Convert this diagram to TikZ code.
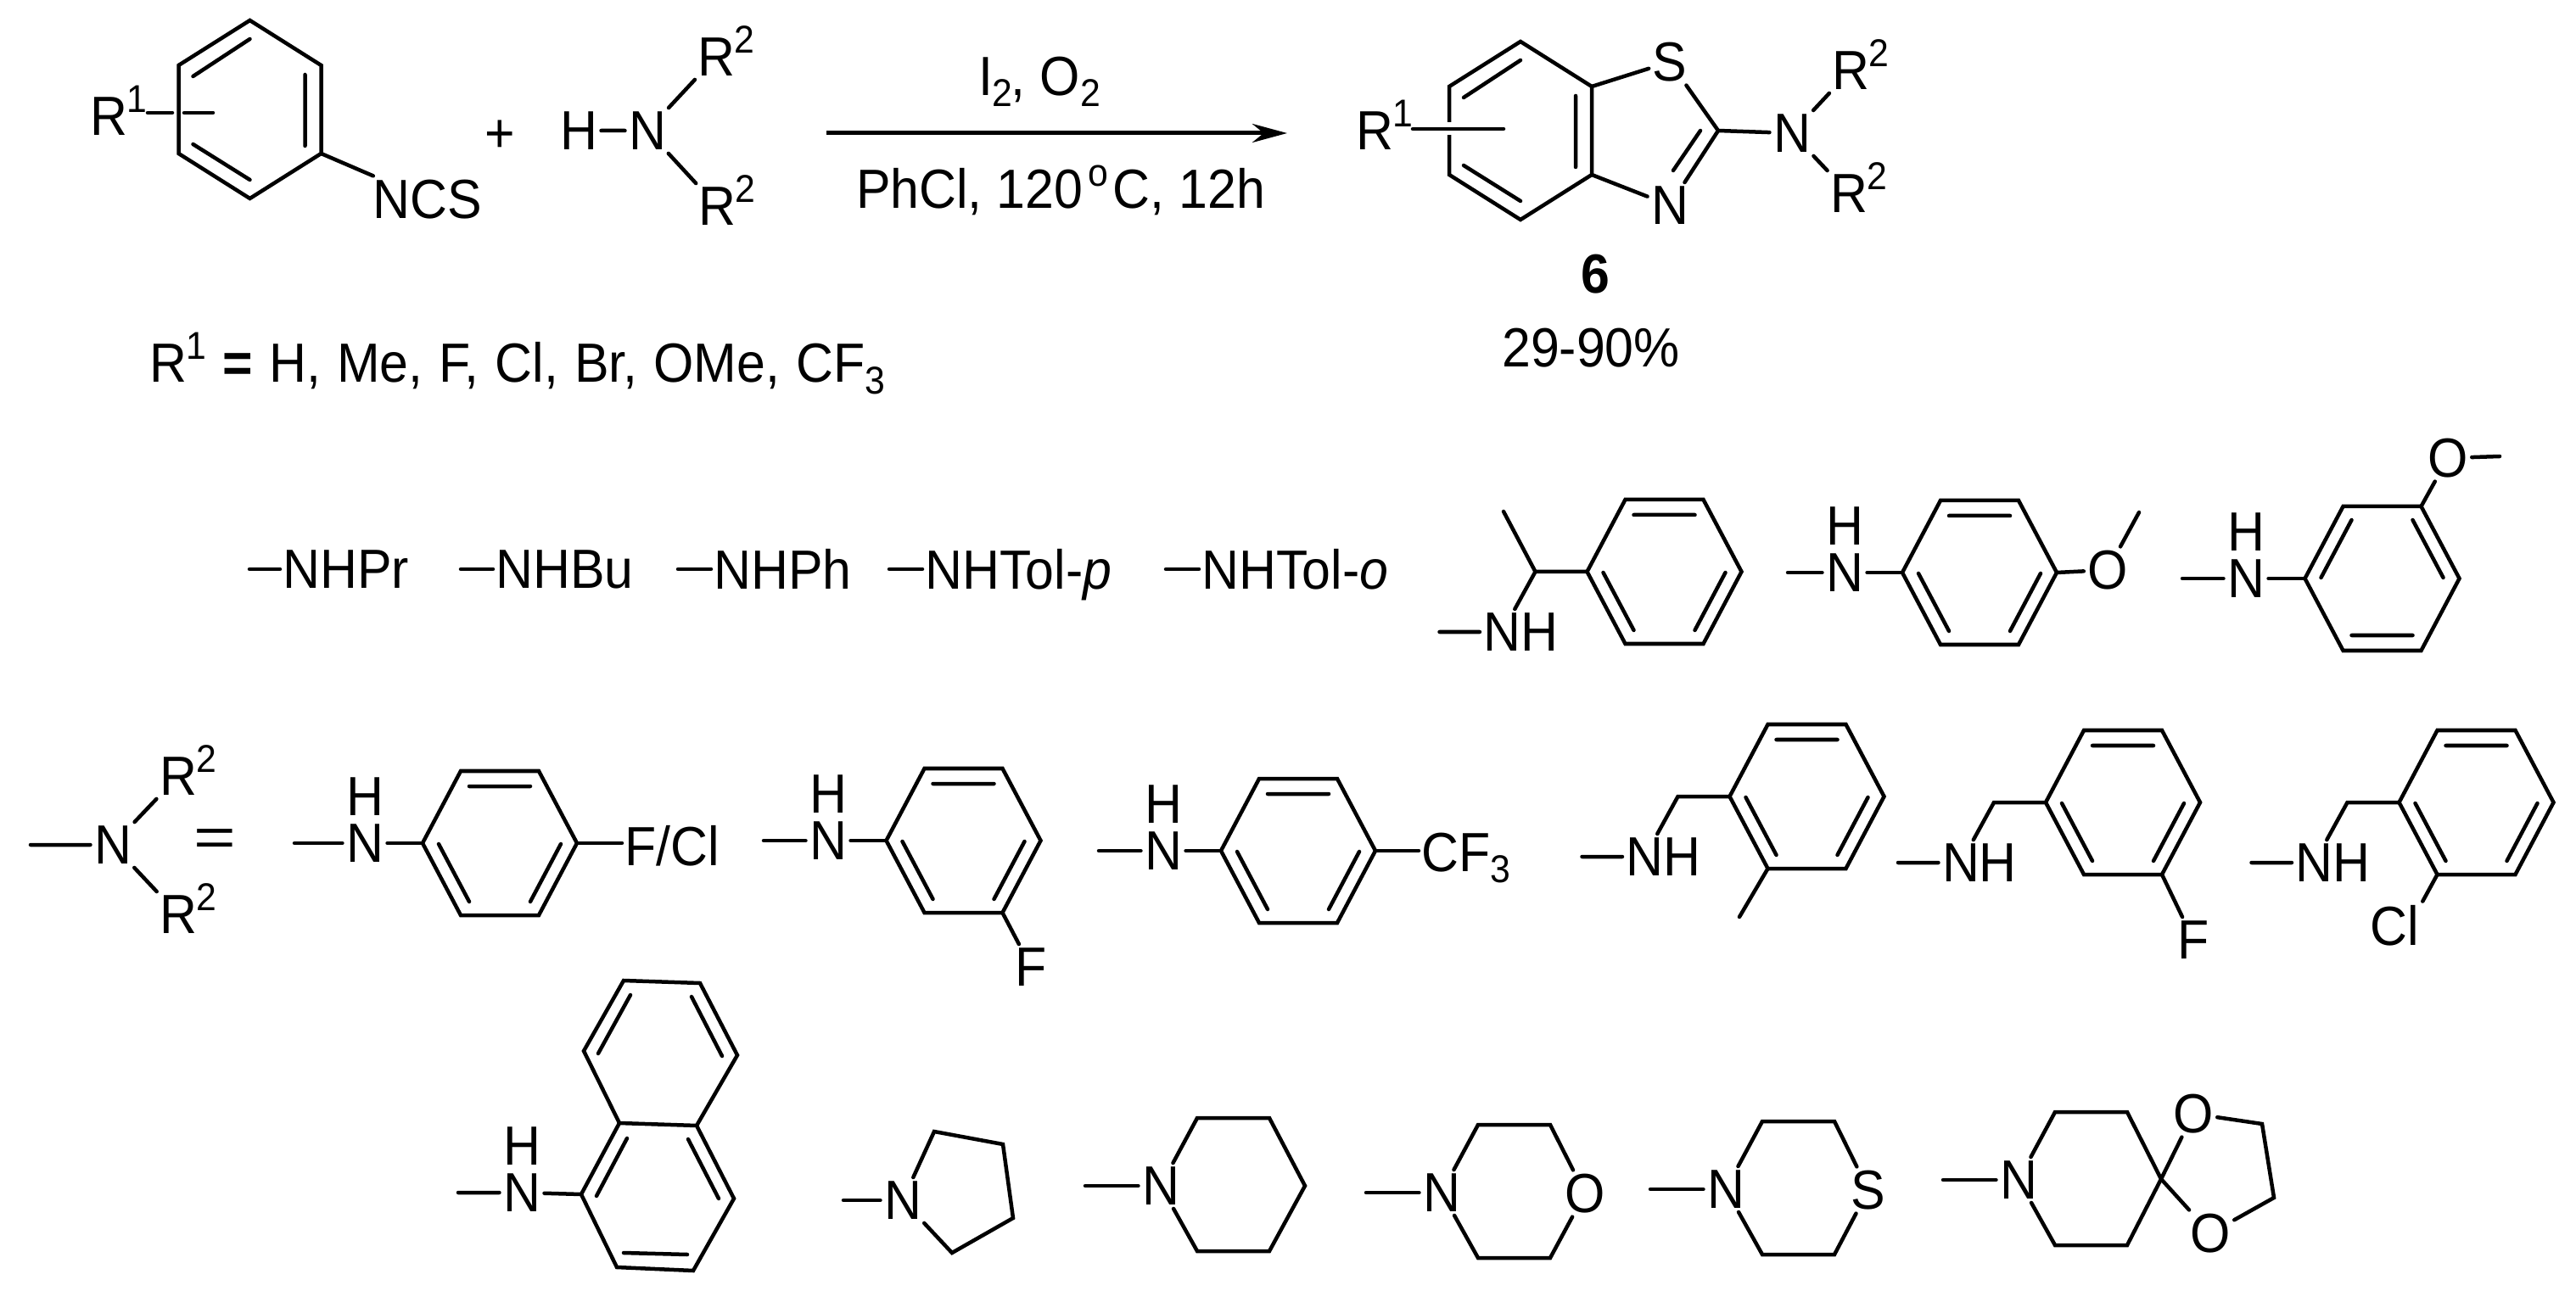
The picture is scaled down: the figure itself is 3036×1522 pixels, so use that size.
\documentclass[tikz,border=0pt]{standalone}
\usepackage{fontspec}
\setmainfont{Liberation Sans}[FakeStretch=0.935]
\usetikzlibrary{arrows.meta,positioning}
\newcommand{\chemfont}{\fontsize{18.5}{22}\selectfont}
\newcommand{\smallfont}{\fontsize{13}{13}\selectfont}
\newcommand{\sups}[1]{\rlap{\smash{\raisebox{0.27cm}{\smallfont #1}}}}
\newcommand{\subs}[1]{\rlap{\smash{\raisebox{-0.13cm}{\smallfont #1}}}}
\tikzset{
  bond/.style={line width=0.045cm,line cap=round,line join=miter},
  halo/.style={preaction={draw=white,line width=0.15cm,line cap=butt}},
  atom/.style={inner sep=1.3pt,outer sep=0pt},
  textline/.style={inner sep=0pt,outer sep=0pt,anchor=base west},
  group/.style={inner ysep=0pt,inner xsep=1pt,outer sep=0pt,anchor=west,text depth=0pt},
  react/.style={line width=0.05cm,-{Stealth[length=0.41cm,width=0.22cm]}}
}
\newcommand{\flatring}[4]{
  \begin{scope}[shift={(#2,#3)},yscale=#4]
    \coordinate (#11) at (-91,0);
    \coordinate (#12) at (-46,-85);
    \coordinate (#13) at (46,-85);
    \coordinate (#14) at (91,0);
    \coordinate (#15) at (46,85);
    \coordinate (#16) at (-46,85);
    \draw[bond] (#11) -- (#12) -- (#13) -- (#14) -- (#15) -- (#16) -- cycle;
    \draw[bond] (-36,-67) -- (36,-67) (-72,1) -- (-36,69) (72,1) -- (36,69);
  \end{scope}}
\newcommand{\tallring}[3]{
  \begin{scope}[shift={(#2,#3)}]
    \coordinate (#11) at (0,-105);
    \coordinate (#12) at (84,-52);
    \coordinate (#13) at (84,52);
    \coordinate (#14) at (0,105);
    \coordinate (#15) at (-84,52);
    \coordinate (#16) at (-84,-52);
    \draw[bond] (#11) -- (#12) -- (#13) -- (#14) -- (#15) -- (#16) -- cycle;
    \draw[bond] (-67,-39) -- (0,-83) (65,-41) -- (65,43) (-67,41) -- (0,83);
  \end{scope}}
\newcommand{\anilino}[5]{
  \node[atom] (#1N) at (#2,#3) {N};
  \node[atom,on grid,above=of #1N] (#1H) {H};
  \coordinate (#1m) at (#2-#4,#3);
  \draw[bond] (#1m) -- (#1N) -- (#5);}
\newcommand{\benzylamine}[3]{
  \flatring{#1}{#2}{#3}{1}
  \begin{scope}[shift={(#2,#3)}]
    \coordinate (#1c) at (-152,0);
    \node[atom] (#1N) at (-191,71) {N\rlap{H}};
    \coordinate (#1m) at (-265,71);
  \end{scope}
  \draw[bond] (#1m) -- (#1N) -- (#1c) -- (#11);}
\newcommand{\azaring}[3]{
  \node[atom] (#1N) at (#2,#3) {N};
  \coordinate (#1m) at (#2-89,#3);
  \coordinate (#1a) at (#2+43,#3-80);
  \coordinate (#1b) at (#2+128,#3-80);
  \coordinate (#1c) at (#2+128,#3+77);
  \coordinate (#1d) at (#2+43,#3+77);
  \draw[bond] (#1m) -- (#1N);
  \draw[bond] (#1N) -- (#1a) -- (#1b) -- (#1X) -- (#1c) -- (#1d) -- (#1N);}
\begin{document}
\begin{tikzpicture}[x=0.01cm,y=-0.01cm,node distance=0.55cm,every node/.style={font=\chemfont}]
  \useasboundingbox (0,0) rectangle (3036,1522);

  \tallring{r}{294.5}{129}
  \node[atom] (rR) at (128,137) {R\sups{1}};
  \coordinate (rs1) at (174,133);
  \coordinate (rs2) at (203,133);
  \coordinate (rs3) at (217,133);
  \coordinate (rs4) at (251,133);
  \draw[bond] (rs1) -- (rs2) (rs3) -- (rs4);
  \node[atom] (ncs) at (504,235) {NCS};
  \draw[bond] (r3) -- (ncs);
  \node[atom] (plus) at (589,161) {+};
  \node[atom] (aH) at (682,154) {H};
  \node[atom] (aN) at (763,154) {N};
  \node[atom] (aR1) at (844,67) {R\sups{2}};
  \node[atom] (aR2) at (845,243) {R\sups{2}};
  \draw[bond] (aH) -- (aN) (aN) -- (aR1) (aN) -- (aR2);

  \coordinate (arstart) at (974,157);
  \coordinate (arend) at (1517,157);
  \draw[react] (arstart) -- (arend);
  \node[textline] (cond1) at (1153,113) {I\subs{2}\hspace{0.22cm}, O\subs{2}};
  \node[textline] (cond2) at (1009,246) {PhCl, 120\hspace{0.06cm}\raisebox{0.26cm}{\smallfont o}\hspace{0.06cm}C, 12h};
  \node[textline] (r1list) at (176,451) {\spaceskip=0.19cm R\raisebox{0.27cm}{\smallfont 1} \textbf{=} H, Me, F, Cl, Br, OMe, CF\subs{3}};

  \tallring{p}{1792}{154}
  \node[atom] (pS) at (1968,73) {S};
  \node[atom] (pA) at (1968,242) {N};
  \coordinate (pC) at (2025,154);
  \node[atom] (pN) at (2112,157) {N};
  \node[atom] (pR1) at (2181,83) {R\sups{2}};
  \node[atom] (pR2) at (2179,228) {R\sups{2}};
  \node[atom] (pR) at (1620,154) {R\sups{1}};
  \coordinate (ps1) at (1665,152);
  \coordinate (ps2) at (1772,152);
  \draw[bond,halo] (ps1) -- (ps2);
  \draw[bond] (p2) -- (pS) -- (pC) -- (pA) -- (p3);
  \draw[bond] (pC) -- (pN) (pN) -- (pR1) (pN) -- (pR2);
  \draw[bond] (2004,154) -- (1972,201);
  \node[atom] (six) at (1880,323) {\textbf{6}};
  \node[atom] (yield) at (1875,410) {29-90\%};

  \node[group] (pr) at (330,671) {NHPr};
  \node[group] (bu) at (581,671) {NHBu};
  \node[group] (ph) at (838,671) {NHPh};
  \node[group] (tp) at (1087,671) {NHTol-\textit{p}};
  \node[group] (to) at (1413,671) {NHTol-\textit{o}};
  \coordinate (prm) at (294,671);
  \coordinate (bum) at (543,671);
  \coordinate (phm) at (799,671);
  \coordinate (tpm) at (1048,671);
  \coordinate (tom) at (1374,671);
  \draw[bond] (prm) -- (pr.west) (bum) -- (bu.west) (phm) -- (ph.west) (tpm) -- (tp.west) (tom) -- (to.west);

  \benzylamine{a}{1961.5}{674}
  \coordinate (ame) at (1772,603);
  \draw[bond] (ac) -- (ame);

  \flatring{b}{2333}{675}{1}
  \anilino{b}{2174}{675}{67}{b1}
  \node[atom] (bO) at (2484,672) {O};
  \coordinate (bme) at (2521,604);
  \draw[bond] (b4) -- (bO) -- (bme);

  \flatring{c}{2807.5}{682}{-1}
  \anilino{c}{2647}{682}{75}{c1}
  \node[atom] (cO) at (2885,540) {O};
  \coordinate (cme) at (2946,538);
  \draw[bond] (c5) -- (cO);
  \draw[bond] (cO) -- (cme);

  \node[atom] (xN) at (133,996) {N};
  \coordinate (xm) at (36,996);
  \node[atom] (xR1) at (210,915) {R\sups{2}};
  \node[atom] (xR2) at (210,1078) {R\sups{2}};
  \draw[bond] (xm) -- (xN) (xN) -- (xR1) (xN) -- (xR2);
  \node[atom] (eq) at (253,994) {\scalebox{1.4}[1]{=}};

  \flatring{d}{589}{994}{1}
  \anilino{d}{430}{994}{83}{d1}
  \node[group] (dX) at (733,997) {F/Cl};
  \draw[bond] (d4) -- (d4 -| dX.west);

  \flatring{e}{1135.5}{991}{1}
  \anilino{e}{976}{991}{76}{e1}
  \node[atom] (eF) at (1215,1140) {F};
  \draw[bond] (e5) -- (eF);

  \flatring{f}{1530}{1003}{1}
  \anilino{f}{1371}{1003}{76}{f1}
  \node[group] (fX) at (1672,1005) {CF\subs{3}};
  \draw[bond] (f4) -- (f4 -| fX.west);

  \benzylamine{i}{2129.5}{939}
  \coordinate (ime) at (2050,1081);
  \draw[bond] (i6) -- (ime);

  \benzylamine{j}{2502}{946}
  \node[atom] (jF) at (2585,1108) {F};
  \draw[bond] (j5) -- (jF);

  \benzylamine{k}{2918.5}{946}
  \node[atom] (kCl) at (2822,1091) {Cl};
  \draw[bond] (k6) -- (kCl.north east);

  \coordinate (n1) at (735,1156);
  \coordinate (n2) at (825,1159);
  \coordinate (n3) at (869,1244);
  \coordinate (n4) at (821,1327);
  \coordinate (n5) at (730,1324);
  \coordinate (n6) at (688,1239);
  \coordinate (n7) at (865,1413);
  \coordinate (n8) at (817,1498);
  \coordinate (n9) at (727,1494);
  \coordinate (n10) at (685,1408);
  \draw[bond] (n1) -- (n2) -- (n3) -- (n4) -- (n5) -- (n6) -- cycle;
  \draw[bond] (n4) -- (n7) -- (n8) -- (n9) -- (n10) -- (n5);
  \draw[bond] (743,1173) -- (705,1242) (815,1175) -- (851,1245);
  \draw[bond] (739,1342) -- (703,1410) (811,1343) -- (847,1413) (735,1477) -- (810,1479);
  \anilino{n}{615}{1406}{75}{n10}

  \node[atom] (yN) at (1064,1415) {N};
  \coordinate (ym) at (994,1415);
  \coordinate (y1) at (1101,1334);
  \coordinate (y2) at (1182,1349);
  \coordinate (y3) at (1194,1436);
  \coordinate (y4) at (1122,1477);
  \draw[bond] (ym) -- (yN);
  \draw[bond] (yN) -- (y1) -- (y2) -- (y3) -- (y4) -- (yN);

  \coordinate (sX) at (1538,1398);
  \azaring{s}{1368}{1398}

  \node[atom] (mX) at (1868,1407) {O};
  \azaring{m}{1699}{1406}

  \node[atom] (tX) at (2202,1403) {S};
  \azaring{t}{2034}{1402}

  \coordinate (uX) at (2547,1390);
  \azaring{u}{2379}{1391}
  \node[atom] (uO1) at (2585,1313) {O};
  \node[atom] (uO2) at (2605,1454) {O};
  \coordinate (u5) at (2666,1325);
  \coordinate (u6) at (2680,1412);
  \draw[bond] (uX) -- (uO1) -- (u5) -- (u6) -- (uO2) -- (uX);
\end{tikzpicture}
\end{document}
